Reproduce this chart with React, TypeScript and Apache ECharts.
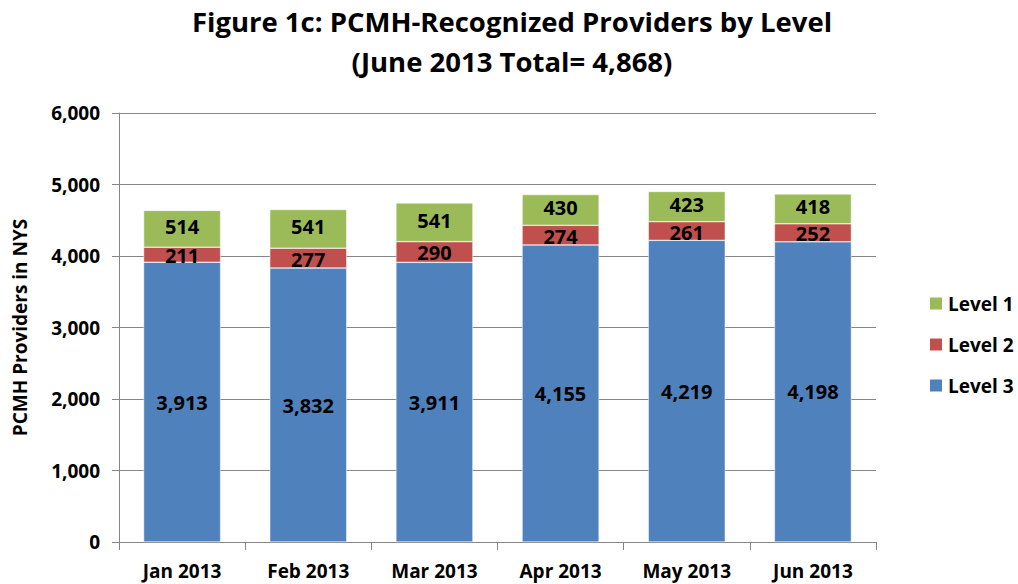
import React, { useEffect, useRef } from "react";
import * as echarts from "echarts";

const categories = ["Jan 2013", "Feb 2013", "Mar 2013", "Apr 2013", "May 2013", "Jun 2013"];
const level3 = [3913, 3832, 3911, 4155, 4219, 4198];
const level2 = [211, 277, 290, 274, 261, 252];
const level1 = [514, 541, 541, 430, 423, 418];
const titleLines = ["Figure 1c: PCMH-Recognized Providers by Level", "(June 2013 Total= 4,868)"];

const fmt = (v: number) => v.toLocaleString("en-US");
const FONT = "Open Sans";

export default function App() {
  const ref = useRef<HTMLDivElement>(null);
  useEffect(() => {
    if (!ref.current) return;
    const chart = echarts.init(ref.current, null, { renderer: "svg" });
    const mk = (name: string, data: number[], color: string, dy: number) => ({
      name,
      type: "bar" as const,
      stack: "total",
      data,
      barWidth: 77,
      itemStyle: { color, borderColor: "#fff", borderWidth: 0.5 },
      label: {
        show: true,
        position: "inside" as const,
        offset: [0, dy],
        color: "#000",
        fontFamily: FONT,
        fontWeight: "bold" as const,
        fontSize: 20,
        lineHeight: 18,
        formatter: (p: any) => fmt(p.value),
      },
    });
    chart.setOption({
      animation: false,
      title: {
        text: titleLines.join("\n"),
        left: 507,
        textAlign: "center",
        top: -4,
        textStyle: {
          fontFamily: FONT,
          fontWeight: "bold",
          fontSize: 27.5,
          lineHeight: 40,
          color: "#000",
        },
      },
      legend: {
        orient: "vertical",
        left: 923,
        top: 289,
        itemGap: 22,
        itemWidth: 14,
        itemHeight: 14,
        icon: "rect",
        data: ["Level 1", "Level 2", "Level 3"],
        textStyle: { fontFamily: FONT, fontWeight: "bold", fontSize: 19, color: "#000" },
      },
      grid: { left: 119, top: 113, width: 757, height: 429 },
      xAxis: {
        type: "category",
        data: categories,
        axisLine: { lineStyle: { color: "#868686" } },
        axisTick: { show: true, length: 8, lineStyle: { color: "#868686" } },
        axisLabel: {
          fontFamily: FONT,
          fontWeight: "bold",
          fontSize: 19,
          color: "#000",
          margin: 19,
        },
      },
      yAxis: {
        type: "value",
        min: 0,
        max: 6000,
        interval: 1000,
        name: "PCMH Providers in NYS",
        nameLocation: "middle",
        nameGap: 90,
        nameTextStyle: { fontFamily: FONT, fontWeight: "bold", fontSize: 19, color: "#000" },
        axisLine: { show: true, lineStyle: { color: "#868686" } },
        axisTick: { show: true, length: 7, lineStyle: { color: "#868686" } },
        splitLine: { lineStyle: { color: "#868686" } },
        axisLabel: {
          fontFamily: FONT,
          fontWeight: "bold",
          fontSize: 19,
          color: "#000",
          margin: 19,
          formatter: (v: number) => fmt(v),
        },
      },
      series: [
        mk("Level 3", level3, "#4F81BD", 0),
        mk("Level 2", level2, "#C0504D", 1),
        mk("Level 1", level1, "#9BBB59", -2),
      ],
    });
    return () => chart.dispose();
  }, []);
  return <div ref={ref} style={{ width: 1018, height: 584, position: "absolute", left: 0, top: 0 }} />;
}
